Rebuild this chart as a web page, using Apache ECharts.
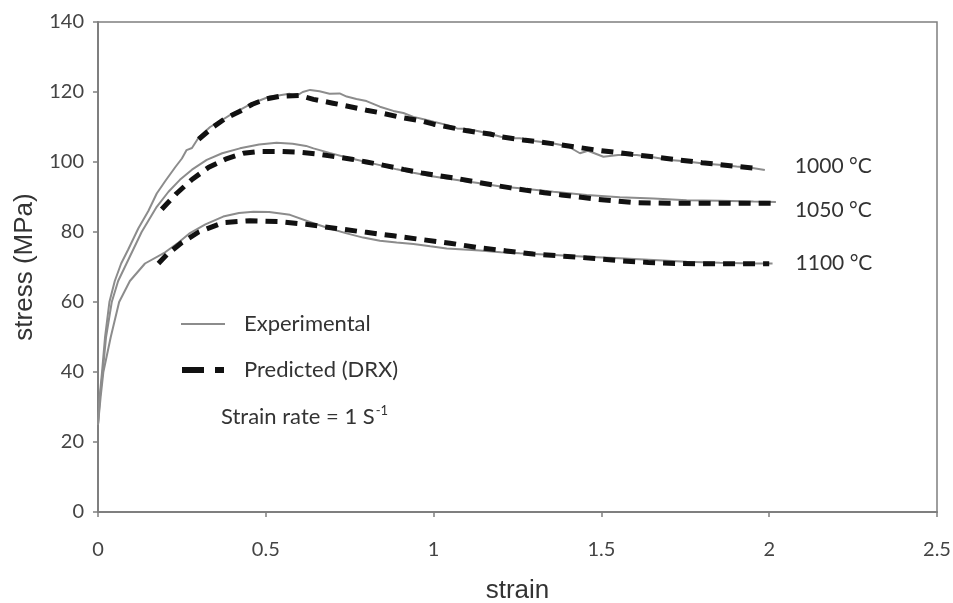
<!DOCTYPE html>
<html>
<head>
<meta charset="utf-8">
<script src="https://cdn.jsdelivr.net/npm/echarts@6/dist/echarts.min.js"></script>
<style>
html,body{margin:0;padding:0;background:#fff;}
#chart{width:953px;height:603px;}
</style>
</head>
<body>
<div id="chart"></div>
<script>
// ---- data (strain, stress MPa) ----
var exp1000 = [[0,25],[0.005,33],[0.012,40],[0.021,50],[0.034,60],[0.05,66],[0.069,71],[0.09,75],[0.12,81],[0.15,86],[0.175,91],[0.2,94.5],[0.23,98.5],[0.25,101],[0.264,103.4],[0.28,104],[0.3,107],[0.334,110],[0.37,112],[0.4,113.8],[0.423,114.9],[0.46,116.8],[0.512,118.7],[0.542,119.1],[0.57,119.5],[0.59,118.8],[0.61,120],[0.632,120.6],[0.66,120.2],[0.69,119.5],[0.72,119.6],[0.741,118.7],[0.77,118],[0.8,117.4],[0.84,115.8],[0.88,114.6],[0.91,114],[0.94,112.9],[0.97,112.2],[1.0,111.5],[1.039,110.6],[1.07,109.6],[1.1,109.4],[1.138,108.7],[1.17,108],[1.2,107.2],[1.237,106.8],[1.257,106.8],[1.3,106],[1.357,105.3],[1.4,104.5],[1.436,102.5],[1.46,103.2],[1.506,101.5],[1.55,102],[1.605,102],[1.65,101.4],[1.704,100.6],[1.75,100.2],[1.804,99.6],[1.85,99.2],[1.903,98.7],[1.95,98.3],[1.987,97.7]];
var pred1000 = [[0.3,106.5],[0.343,110],[0.38,112.5],[0.423,114.5],[0.46,116.5],[0.5,118],[0.542,118.8],[0.6,119],[0.642,117.9],[0.7,116.8],[0.741,116],[0.8,114.8],[0.85,113.9],[0.9,112.8],[0.96,111.8],[1.0,110.8],[1.064,109.6],[1.1,108.9],[1.168,108],[1.2,107.2],[1.267,106.3],[1.3,105.9],[1.381,104.9],[1.486,103.4],[1.59,102.2],[1.695,101],[1.8,99.8],[1.908,98.7],[1.95,98.3]];
var exp1050 = [[0,25],[0.006,33],[0.014,40],[0.024,50],[0.041,60],[0.06,66],[0.085,71],[0.105,75],[0.13,80],[0.175,87.2],[0.21,91.5],[0.244,94.9],[0.28,97.8],[0.324,100.6],[0.37,102.5],[0.423,103.9],[0.48,105],[0.532,105.5],[0.58,105.2],[0.62,104.6],[0.642,103.9],[0.69,102.6],[0.741,101.3],[0.79,100.2],[0.84,99.1],[0.89,97.9],[0.94,96.9],[0.99,96],[1.039,95.3],[1.09,94.6],[1.138,93.9],[1.2,93],[1.257,92.5],[1.357,91.5],[1.456,90.6],[1.555,89.9],[1.655,89.6],[1.754,89.1],[1.853,88.9],[1.953,88.7],[2.02,88.6]];
var pred1050 = [[0.19,86.5],[0.234,91],[0.28,95],[0.33,98.5],[0.38,100.8],[0.433,102.5],[0.48,103],[0.54,103],[0.6,102.8],[0.652,102.3],[0.7,101.6],[0.756,100.8],[0.8,100],[0.86,98.9],[0.91,97.9],[0.964,96.9],[1.02,96],[1.069,95.3],[1.12,94.4],[1.178,93.4],[1.23,92.6],[1.277,91.9],[1.33,91.2],[1.381,90.6],[1.44,89.9],[1.491,89.3],[1.55,88.8],[1.595,88.4],[1.7,88.2],[1.809,88.2],[1.913,88.2],[2.02,88.2]];
var exp1100 = [[0,25],[0.008,33],[0.016,40],[0.038,50],[0.063,60],[0.095,66],[0.14,71],[0.2,74.2],[0.24,77],[0.274,79.7],[0.32,82.2],[0.373,84.4],[0.42,85.4],[0.463,85.8],[0.51,85.7],[0.572,84.9],[0.642,82.5],[0.69,81],[0.741,79.6],[0.79,78.4],[0.84,77.5],[0.89,77],[0.94,76.6],[0.99,75.9],[1.039,75.3],[1.09,75],[1.138,74.7],[1.2,74.2],[1.257,73.9],[1.357,73.4],[1.456,72.9],[1.555,72.5],[1.655,72],[1.754,71.5],[1.853,71.2],[1.953,71],[2.01,71]];
var pred1100 = [[0.18,71],[0.205,73.5],[0.25,77],[0.3,80],[0.373,82.7],[0.453,83.2],[0.54,83],[0.62,82.2],[0.711,81],[0.8,79.9],[0.88,78.9],[0.96,77.9],[1.049,76.8],[1.128,75.6],[1.217,74.6],[1.297,73.7],[1.387,73.1],[1.471,72.5],[1.555,71.8],[1.64,71.3],[1.724,71],[1.809,70.9],[1.893,70.9],[2.0,70.9]];
var tempLabels = ['1000 \u00B0C', '1050 \u00B0C', '1100 \u00B0C'];
var legendNames = ['Experimental', 'Predicted (DRX)'];
var noteText = 'Strain rate = 1 S';
var noteSup = '-1';

var narrow = 'Lato,"Liberation Sans",sans-serif';
var axisColor = '#7f7f7f';
var expColor = '#8c8c8c';
var predColor = '#111111';

function expSeries(data, label, offset) {
  return {
    type: 'line', name: legendNames[0], data: data, showSymbol: false, symbol: 'none',
    lineStyle: { color: expColor, width: 2 }, itemStyle: { color: expColor },
    z: 2, silent: true, animation: false,
    endLabel: { show: true, formatter: label, offset: offset, color: '#333',
      fontFamily: narrow, fontSize: 21 }
  };
}
function predSeries(data) {
  return {
    type: 'line', name: legendNames[1], data: data, showSymbol: false, symbol: 'none',
    lineStyle: { color: predColor, width: 5, type: [12, 8], cap: 'butt' },
    itemStyle: { color: predColor },
    z: 3, silent: true, animation: false
  };
}

var chart = echarts.init(document.getElementById('chart'), null, { renderer: 'canvas' });
chart.setOption({
  backgroundColor: '#ffffff',
  animation: false,
  grid: { left: 98, right: 16, top: 22, bottom: 91, outerBoundsMode: 'none', containLabel: false,
    show: true, borderColor: axisColor, borderWidth: 1.5 },
  xAxis: {
    type: 'value', min: 0, max: 2.5, interval: 0.5,
    name: 'strain', nameLocation: 'middle', nameGap: 66,
    nameTextStyle: { fontFamily: '"Liberation Sans",Arial,sans-serif', fontSize: 26, color: '#333' },
    axisLine: { lineStyle: { color: axisColor, width: 2 } },
    axisTick: { show: true, length: 5, lineStyle: { color: axisColor, width: 1.5 } },
    axisLabel: { margin: 28, fontFamily: narrow, fontSize: 20, color: '#444' },
    splitLine: { show: false }
  },
  yAxis: {
    type: 'value', min: 0, max: 140, interval: 20,
    name: 'stress (MPa)', nameLocation: 'middle', nameGap: 54, nameRotate: 90,
    nameTextStyle: { fontFamily: '"Liberation Sans",Arial,sans-serif', fontSize: 26, color: '#333' },
    axisLine: { show: true, lineStyle: { color: axisColor, width: 2 } },
    axisTick: { show: true, length: 5, lineStyle: { color: axisColor, width: 1.5 } },
    axisLabel: { margin: 14, fontFamily: narrow, fontSize: 20, color: '#444' },
    splitLine: { show: false }
  },
  legend: {
    left: 176, top: 308, orient: 'vertical', itemGap: 24,
    itemWidth: 44, itemHeight: 6,
    data: [
      { name: legendNames[0], icon: 'path://M0,2L44,2L44,4L0,4Z', itemStyle: { color: expColor } },
      { name: legendNames[1], icon: 'path://M0,0L22,0L22,6L0,6ZM33,0L42,0L42,6L33,6Z', itemStyle: { color: predColor } }
    ],
    textStyle: { fontFamily: narrow, fontSize: 22, color: '#333', padding: [0, 0, 0, 14] },
    selectedMode: false
  },
  graphic: [{
    type: 'text', left: 221, top: 404,
    style: {
      text: '{a|' + noteText + '}{b|' + noteSup + '}',
      rich: {
        a: { fontFamily: narrow, fontSize: 22, fill: '#333' },
        b: { fontFamily: narrow, fontSize: 13, fill: '#333', verticalAlign: 'top', padding: [0, 0, 12, 1] }
      }
    }
  }],
  series: [
    predSeries(pred1000), predSeries(pred1050), predSeries(pred1100),
    expSeries(exp1000, tempLabels[0], [22, -4]),
    expSeries(exp1050, tempLabels[1], [11, 8]),
    expSeries(exp1100, tempLabels[2], [15, 0])
  ]
});
</script>
</body>
</html>
